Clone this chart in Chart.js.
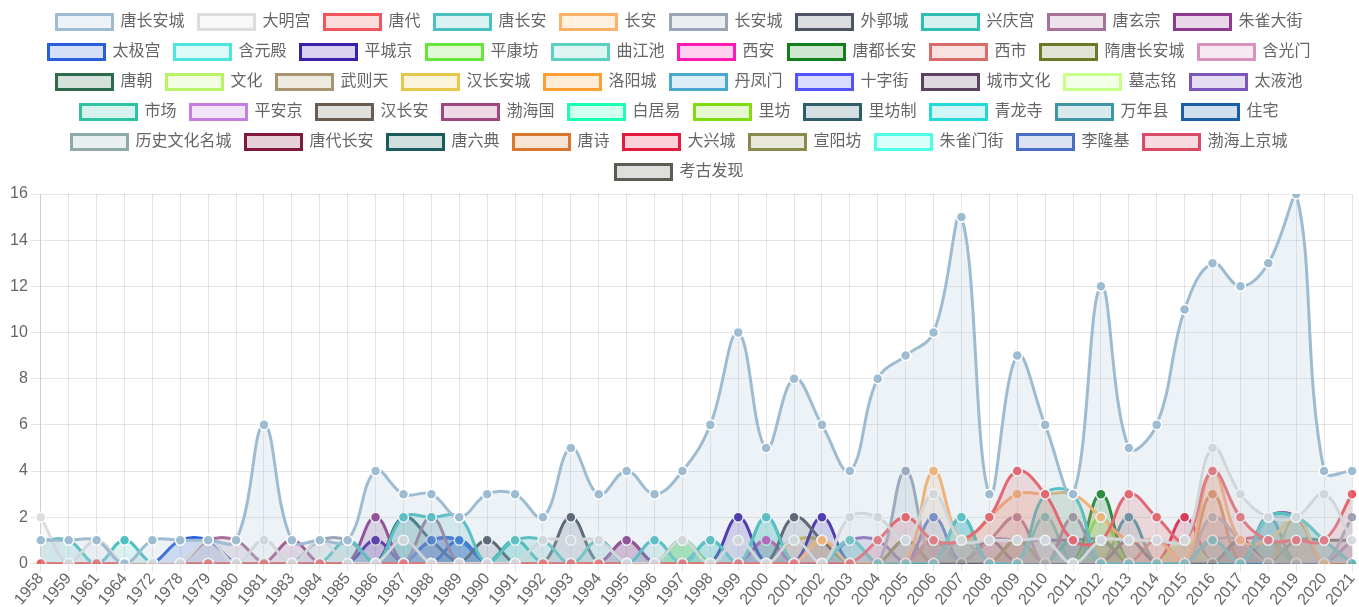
<!DOCTYPE html>
<html>
<head>
<meta charset="utf-8">
<script src="https://cdn.jsdelivr.net/npm/chart.js@4.4.1/dist/chart.umd.min.js"></script>
<style>
  html, body { margin: 0; padding: 0; background: #fff; }
  #wrap { width: 1359px; height: 607px; }
</style>
</head>
<body>
<div id="wrap"><canvas id="c"></canvas></div>
<script>
const years = ['1958','1959','1961','1964','1972','1978','1979','1980','1981','1983','1984','1985',
  '1986','1987','1988','1989','1990','1991','1992','1993','1994','1995','1996','1997',
  '1998','1999','2000','2001','2002','2003','2004','2005','2006','2007','2008','2009',
  '2010','2011','2012','2013','2014','2015','2016','2017','2018','2019','2020','2021'];

const names = ['唐长安城','大明宫','唐代','唐长安','长安','长安城','外郭城','兴庆宫','唐玄宗','朱雀大街',
  '太极宫','含元殿','平城京','平康坊','曲江池','西安','唐都长安','西市','隋唐长安城','含光门',
  '唐朝','文化','武则天','汉长安城','洛阳城','丹凤门','十字街','城市文化','墓志铭','太液池',
  '市场','平安京','汉长安','渤海国','白居易','里坊','里坊制','青龙寺','万年县','住宅',
  '历史文化名城','唐代长安','唐六典','唐诗','大兴城','宣阳坊','朱雀门街','李隆基','渤海上京城','考古发现'];

const colors = ['#9ebcd1','#dddddd','#f2545b','#4bc0c0','#ffb266','#9aa5b8','#4f5663','#2ebfb3','#a6729a','#8e3a8e',
  '#2b5fd9','#4de8dc','#3b1fa8','#66e63a','#5cd1bf','#ff1ab3','#12801a','#d96b6b','#6b7a29','#d991c0',
  '#2e6b4a','#b8f266','#a89470','#e6c84d','#ff9f33','#4aa8cc','#5252ff','#5c4260','#c6ff8a','#7a57b8',
  '#2ec2a0','#c47ee0','#6b5d52','#a0467e','#1affb0','#7fdb12','#2e5e6b','#24d9d9','#3f97a6','#1a5ea6',
  '#8fa8a8','#801a3a','#1a5c5c','#d9772e','#e61a3d','#8a8a4a','#4dffe6','#4a6ec4','#d94a66','#5c5c52'];

// one row per keyword, one value per year
const counts = [
  [1,1,1,0,1,1,1,1,6,1,1,1, 4,3,3,2,3,3,2,5,3,4,3,4, 6,10,5,8,6,4,8,9,10,15,3,9, 6,3,12,5,6,11,13,12,13,16,4,4],
  [2,0,1,0,0,0,1,0,1,0,1,0, 0,1,0,0,0,0,1,1,1,0,0,1, 0,1,0,1,0,2,2,1,3,1,1,1, 1,0,1,1,1,1,5,3,2,2,3,1],
  [0,0,0,0,0,0,0,0,0,0,0,0, 0,0,0,0,0,0,0,0,0,0,0,0, 0,0,0,0,0,0,1,2,1,1,2,4, 3,1,1,3,2,1,4,2,1,1,1,3],
  [1,1,0,1,0,0,0,0,0,0,0,1, 0,2,2,2,0,1,1,0,1,0,1,0, 1,0,2,0,0,1,0,0,0,2,0,0, 3,3,0,0,0,0,1,0,2,2,1,0],
  [0,0,0,0,0,0,0,0,0,0,0,0, 0,0,0,0,0,0,0,0,0,0,0,0, 0,0,0,0,1,0,0,0,4,1,2,3, 3,3,2,1,1,0,4,1,1,2,0,0],
  [0,0,0,0,0,0,0,0,0,0,1,1, 0,0,0,0,0,0,0,0,0,0,0,0, 0,0,0,0,0,0,0,4,0,1,0,0, 0,0,0,0,0,0,2,1,0,0,0,2],
  [0,0,0,0,0,0,0,0,0,0,0,0, 0,0,0,0,1,0,0,2,0,0,0,0, 0,0,0,2,1,0,0,0,0,0,0,0, 0,0,0,1,0,0,0,1,0,0,0,0],
  [0,0,0,0,0,0,0,0,0,0,0,0, 0,0,0,0,0,1,0,0,0,0,0,0, 1,0,2,0,0,1,0,0,0,2,0,0, 0,1,0,0,0,0,0,0,2,2,1,0],
  [0,0,0,0,0,0,1,1,0,0,0,0, 0,0,2,0,0,0,0,0,0,0,0,0, 0,0,0,0,0,0,0,0,0,0,1,2, 0,2,0,0,0,0,2,1,0,0,0,1],
  [0,0,0,0,0,0,0,0,0,0,0,0, 2,0,0,0,0,0,0,0,0,1,0,0, 0,0,0,0,0,0,0,0,0,0,0,0, 0,0,0,0,0,0,0,0,2,2,0,0],
  [0,0,0,0,0,1,1,0,0,0,0,0, 0,0,1,1,0,0,0,0,0,0,0,0, 0,0,0,0,0,0,0,0,2,0,0,0, 0,0,0,0,0,0,0,0,0,0,0,0],
  [0,0,0,0,0,0,0,0,0,0,0,0, 0,1,0,0,0,0,0,0,0,0,0,0, 0,0,0,0,0,0,0,0,0,1,0,0, 0,1,0,0,0,0,0,0,0,0,0,0],
  [0,0,0,0,0,0,0,0,0,0,0,0, 1,0,0,0,0,0,0,0,0,0,0,0, 0,2,0,0,2,0,0,0,0,0,0,0, 0,0,0,0,0,0,0,0,0,0,0,0],
  [0,0,0,0,0,0,0,0,0,0,0,0, 0,0,0,0,0,0,0,0,0,0,0,1, 0,0,0,0,0,0,0,0,0,0,0,0, 0,0,2,0,0,0,0,0,0,0,0,0],
  [0,0,0,0,0,0,0,0,0,0,0,0, 0,0,0,0,0,0,0,0,0,0,0,1, 0,0,0,0,0,0,0,0,0,0,0,0, 2,0,0,0,0,0,0,0,0,0,0,0],
  [0,0,0,0,0,0,0,0,0,0,0,0, 0,0,0,0,0,0,0,0,0,0,0,0, 0,0,1,0,0,0,0,0,0,0,0,0, 0,0,0,0,0,0,0,0,0,0,0,0],
  [0,0,0,0,0,0,0,0,0,0,0,0, 0,0,0,0,0,0,0,0,0,0,0,0, 0,0,0,0,0,0,0,0,0,0,0,0, 0,0,3,0,0,0,0,0,0,0,0,0],
  [0,0,0,0,0,0,0,0,0,0,0,0, 0,0,0,0,0,0,0,0,0,0,0,0, 0,0,0,0,0,0,0,0,1,0,0,0, 0,0,0,0,1,0,0,0,0,0,0,0],
  [0,0,0,0,0,0,0,0,0,0,0,0, 0,0,0,0,0,0,0,0,0,0,0,0, 0,0,0,0,0,0,0,1,0,0,0,1, 0,0,0,0,0,0,0,0,0,0,0,0],
  [0,0,0,0,0,0,0,0,0,0,0,0, 0,0,0,0,0,0,0,0,0,0,0,0, 0,0,0,1,0,0,0,0,0,0,0,0, 0,0,0,1,0,0,0,0,0,0,0,0],
  [0,0,0,0,0,0,0,0,0,0,0,0, 0,0,0,0,0,0,0,0,0,0,0,0, 0,0,0,0,0,0,0,0,1,0,0,0, 0,0,1,0,0,0,0,0,0,0,0,0],
  [0,0,0,0,0,0,0,0,0,0,0,0, 0,0,0,0,0,0,0,0,0,0,0,1, 0,0,1,0,0,0,0,0,0,0,0,0, 0,0,0,0,0,1,0,0,0,0,0,0],
  [0,0,0,0,0,0,0,0,0,0,0,0, 0,0,0,0,0,0,0,0,0,0,0,0, 0,0,0,0,0,0,0,0,1,0,0,0, 0,0,0,0,0,0,1,0,0,0,0,0],
  [0,0,0,0,0,0,0,0,0,0,0,0, 0,0,0,0,0,0,0,0,0,0,0,0, 0,0,0,1,1,0,0,0,0,0,0,0, 0,0,0,0,0,0,0,0,0,0,0,0],
  [0,0,0,0,0,0,0,0,0,0,0,0, 0,0,0,0,0,0,0,0,0,0,0,0, 0,0,0,0,0,0,0,0,0,1,0,0, 0,0,0,0,0,0,0,0,0,2,0,0],
  [0,0,0,0,0,0,0,0,0,0,0,0, 0,0,0,0,0,0,0,0,0,0,0,0, 0,0,0,0,0,0,0,1,0,2,0,0, 0,0,0,0,0,0,0,0,0,0,0,0],
  [0,0,0,0,0,0,0,0,0,0,0,0, 0,0,1,1,0,0,0,0,0,0,0,0, 0,0,0,0,0,0,0,0,0,0,0,0, 0,0,0,0,0,0,0,0,0,0,0,0],
  [0,0,0,0,0,0,0,0,0,0,0,0, 0,0,0,0,0,0,0,0,0,0,0,0, 0,0,0,0,0,0,0,0,0,0,1,0, 0,0,0,0,0,0,0,1,0,0,0,0],
  [0,0,0,0,0,0,0,0,0,0,0,0, 0,0,0,0,0,0,0,0,0,0,0,0, 0,0,0,0,0,0,0,0,0,0,0,0, 0,0,0,0,0,1,0,0,0,0,0,0],
  [0,0,0,0,0,0,0,0,0,0,0,0, 0,0,0,0,0,0,0,0,0,0,0,0, 0,0,0,0,0,1,1,0,0,0,1,1, 1,1,1,0,0,0,0,0,0,0,0,0],
  [0,0,0,0,0,0,0,0,0,0,0,0, 0,0,0,0,0,0,0,0,0,0,0,1, 0,0,0,0,0,0,0,0,0,0,0,0, 0,0,0,0,0,0,0,0,1,0,0,0],
  [0,0,0,0,0,0,0,0,0,0,0,0, 0,0,0,0,0,0,0,0,0,0,0,0, 0,0,1,0,0,0,0,0,0,0,0,0, 0,1,0,0,0,0,0,0,0,0,0,0],
  [0,0,0,0,0,0,0,0,0,0,0,0, 0,0,0,0,0,0,0,0,0,0,0,0, 0,0,0,0,0,0,0,0,0,0,0,1, 0,0,0,0,0,0,0,1,0,0,0,0],
  [0,0,0,0,0,0,0,0,0,1,0,0, 0,0,0,0,0,0,0,0,0,1,0,0, 0,0,0,0,0,0,0,0,0,0,0,0, 0,0,0,0,0,0,0,0,0,0,0,0],
  [0,0,0,0,0,0,0,0,0,0,0,0, 0,0,0,0,0,0,0,0,0,0,0,1, 0,0,0,0,0,0,0,0,0,0,0,0, 0,0,0,0,0,0,0,0,0,0,0,0],
  [0,0,0,0,0,0,0,0,0,0,0,0, 0,0,0,0,0,0,0,0,0,0,0,0, 0,0,0,0,0,0,0,0,0,0,0,0, 0,0,1,0,0,0,0,0,0,0,0,0],
  [0,0,0,0,0,0,0,0,0,0,0,0, 0,2,1,0,0,0,0,0,0,0,0,0, 0,0,0,0,0,0,0,0,0,0,0,0, 0,0,0,0,0,0,0,0,0,0,0,0],
  [0,0,0,0,0,0,0,0,0,0,0,0, 0,0,0,0,0,0,0,0,0,0,0,0, 0,0,1,0,0,0,0,0,0,0,0,0, 0,0,0,0,0,0,0,0,1,0,0,0],
  [0,0,0,0,0,0,0,0,0,0,0,0, 0,0,0,0,0,0,0,0,0,0,0,0, 0,0,0,0,0,0,0,0,0,0,0,0, 0,0,0,2,0,0,0,0,2,0,0,0],
  [0,0,0,0,0,0,0,0,0,0,0,0, 0,0,0,1,0,0,0,0,0,0,0,0, 0,0,0,0,0,0,0,0,0,0,0,0, 0,0,0,0,0,0,0,0,0,0,0,0],
  [0,0,0,0,0,0,0,0,0,0,0,0, 0,0,1,1,0,0,0,0,0,0,0,0, 0,0,0,0,0,0,0,0,0,0,0,0, 0,0,0,0,0,0,1,1,0,0,0,0],
  [0,0,0,0,0,0,0,0,0,0,0,0, 0,0,0,0,0,0,0,0,0,0,0,0, 0,0,0,0,0,0,0,0,0,0,0,0, 0,0,0,0,0,1,0,0,0,0,0,0],
  [0,0,0,0,0,0,0,0,0,0,0,0, 0,1,0,0,0,0,0,0,0,0,0,0, 0,0,0,0,0,0,0,0,0,0,0,0, 0,0,0,0,0,0,0,0,0,0,0,0],
  [0,0,0,0,0,0,0,0,0,0,0,0, 0,0,0,0,0,0,0,0,0,0,0,0, 0,0,0,0,0,0,0,0,0,0,0,0, 0,0,0,0,0,0,3,0,0,0,0,0],
  [0,0,0,0,0,0,0,0,0,0,0,0, 0,0,0,0,0,0,0,0,0,0,0,0, 0,0,0,0,0,0,0,0,0,0,0,0, 0,0,0,0,0,2,0,0,0,0,0,0],
  [0,0,0,0,0,0,0,0,0,0,0,0, 0,0,0,0,0,0,0,0,0,0,0,0, 0,0,0,0,0,0,0,0,0,0,0,1, 0,0,0,0,0,0,0,0,0,0,0,0],
  [0,0,0,0,0,0,0,0,0,0,0,0, 0,0,0,0,0,0,0,0,0,0,0,0, 0,0,0,0,0,0,0,0,0,0,0,0, 0,1,0,0,0,0,0,0,0,0,0,0],
  [0,0,0,0,0,0,0,0,0,0,0,0, 0,0,0,0,0,0,0,0,0,0,0,0, 0,0,0,0,0,0,0,0,1,0,0,0, 0,0,0,0,0,0,0,0,0,0,0,0],
  [0,0,0,0,0,0,0,0,0,0,0,0, 0,0,0,0,0,0,0,0,0,0,0,0, 0,0,0,0,0,0,0,0,0,0,0,0, 0,0,0,0,0,0,0,1,1,0,0,0],
  [0,0,0,0,0,0,0,0,0,0,0,0, 0,0,0,0,0,0,0,0,0,0,0,0, 0,0,0,0,0,0,0,0,0,0,0,0, 0,0,0,0,0,0,0,0,0,1,1,1]
];

const yTicks = [0, 2, 4, 6, 8, 10, 12, 14, 16];

function fade(hex, a) {
  const n = parseInt(hex.slice(1), 16);
  return `rgba(${n >> 16}, ${(n >> 8) & 255}, ${n & 255}, ${a})`;
}

Chart.defaults.font.family = "'Liberation Sans', Arial, 'Noto Sans CJK SC', sans-serif";
Chart.defaults.font.size = 16;
Chart.defaults.color = '#666';

const datasets = names.map((name, i) => ({
  label: name,
  data: counts[i],
  borderColor: colors[i],
  backgroundColor: fade(colors[i], 0.2),
  pointBackgroundColor: colors[i],
  pointBorderColor: '#fff',
  pointBorderWidth: 1.5,
  pointRadius: 5,
  borderWidth: 3,
  tension: 0.4,
  fill: 'origin'
}));

// a little more room under the legend
const legendGap = {
  id: 'legendGap',
  beforeInit(chart) {
    const fit = chart.legend.fit;
    chart.legend.fit = function () {
      fit.call(this);
      this.height += 4;
    };
  }
};

new Chart(document.getElementById('c'), {
  type: 'line',
  data: { labels: years, datasets },
  plugins: [legendGap],
  options: {
    responsive: true,
    maintainAspectRatio: false,
    animation: false,
    plugins: {
      legend: {
        position: 'top',
        labels: { boxWidth: 56, boxHeight: 15, padding: 14, color: '#666', font: { size: 16 } }
      },
      tooltip: { enabled: false }
    },
    scales: {
      x: {
        grid: { color: 'rgba(0,0,0,0.1)', tickLength: 8 },
        ticks: { color: '#666', maxRotation: 50, minRotation: 50, autoSkip: false, padding: -2 },
        afterFit: axis => { axis.paddingRight = 7; }
      },
      y: {
        min: 0,
        max: 16,
        grid: { color: 'rgba(0,0,0,0.1)', tickLength: 10 },
        afterBuildTicks: axis => { axis.ticks = yTicks.map(v => ({ value: v })); },
        afterFit: axis => { axis.width += 7; },
        ticks: { color: '#666' }
      }
    }
  }
});
</script>
</body>
</html>
